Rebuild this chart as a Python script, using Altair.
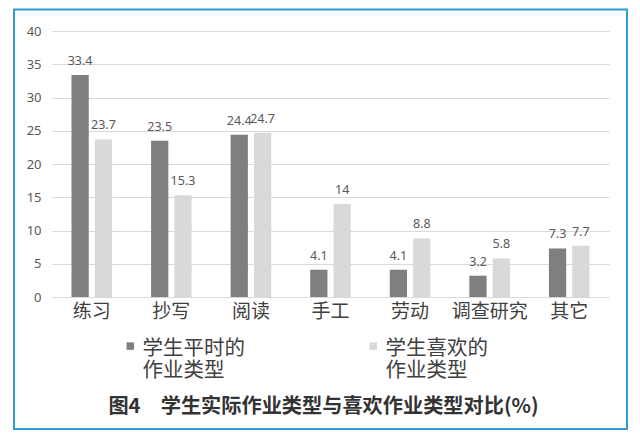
import altair as alt
import pandas as pd

categories = ['练习', '抄写', '阅读', '手工', '劳动', '调查研究', '其它']
actual = [33.4, 23.5, 24.4, 4.1, 4.1, 3.2, 7.3]
liked = [23.7, 15.3, 24.7, 14, 8.8, 5.8, 7.7]
series = ['学生平时的作业类型', '学生喜欢的作业类型']
colors = ['#7f7f7f', '#d9d9d9']
y_ticks = [0, 5, 10, 15, 20, 25, 30, 35, 40]
title_text = '图4\u3000学生实际作业类型与喜欢作业类型对比(%)'

rows = []
for c, a, l in zip(categories, actual, liked):
    rows.append({'cat': c, 'series': series[0], 'value': a})
    rows.append({'cat': c, 'series': series[1], 'value': l})
df = pd.DataFrame(rows)

W, H = 557, 266
PL, PT = 52, 31

x_enc = alt.X('cat:N', sort=categories,
              scale=alt.Scale(paddingInner=0.49, paddingOuter=0.245),
              axis=alt.Axis(title=None, labelAngle=0, labelFontSize=19,
                            labelFont='Noto Sans CJK SC', labelColor='#404040',
                            labelPadding=5, ticks=False, domainColor='#d9d9d9',
                            domainWidth=1))
xo_enc = alt.XOffset('series:N', sort=series,
                     scale=alt.Scale(paddingInner=0.26, paddingOuter=0))
y_enc = alt.Y('value:Q', scale=alt.Scale(domain=[0, 40], nice=False),
              axis=alt.Axis(title=None, values=y_ticks, domain=False, ticks=False,
                            grid=True, gridColor='#d9d9d9', labelFontSize=13,
                            labelFont='Noto Sans', labelColor='#595959',
                            labelPadding=11, labelOverlap=False))
color_enc = alt.Color('series:N', sort=series,
                      scale=alt.Scale(domain=series, range=colors),
                      legend=alt.Legend(title=None, orient='none', direction='horizontal',
                                        columns=2, legendX=68, legendY=297,
                                        symbolType='M-1,1H1V3H-1Z', symbolSize=56,
                                        symbolStrokeWidth=0,
                                        labelFont='Noto Sans CJK SC', labelFontSize=20.5,
                                        labelColor='#404040', labelOffset=2,
                                        labelBaseline='top',
                                        columnPadding=118,
                                        labelExpr="[slice(datum.label,0,5), slice(datum.label,5)]"))

bars = alt.Chart(df).mark_bar().encode(x=x_enc, xOffset=xo_enc, y=y_enc, color=color_enc)
labels = alt.Chart(df).mark_text(baseline='alphabetic', dy=-10, fontSize=12.5,
                                 font='Noto Sans', color='#595959').encode(
    x=x_enc, xOffset=xo_enc, y=y_enc, text=alt.Text('value:Q'))

frame = alt.Chart(pd.DataFrame({'k': [0]})).mark_rect(
    fill='transparent', stroke='#2d9fd3', strokeWidth=2).encode(
    x=alt.value(14 - PL), x2=alt.value(627 - PL),
    y=alt.value(9.5 - PT), y2=alt.value(429 - PT))

chart = alt.layer(frame, bars, labels).properties(
    width=W, height=H,
    autosize=alt.AutoSizeParams(type='none'),
    padding={'left': PL, 'top': PT, 'right': 640 - PL - W, 'bottom': 443 - PT - H},
    title=alt.TitleParams(title_text, orient='bottom', anchor='middle', offset=-33,
                          dx=-7, font='Noto Sans CJK SC', fontSize=20.2,
                          fontWeight='bold', color='#333333'),
    background='white'
).configure_view(stroke=None)

chart.save('out.html', embed_options={'renderer': 'svg', 'actions': False})
